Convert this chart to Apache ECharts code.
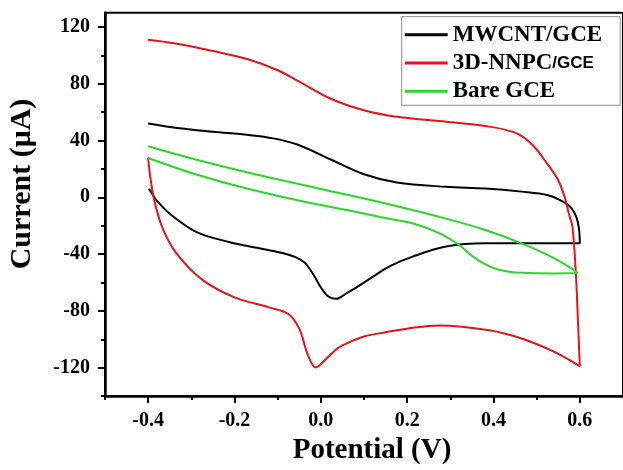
<!DOCTYPE html>
<html><head><meta charset="utf-8">
<script src="https://cdn.jsdelivr.net/npm/echarts@6/dist/echarts.min.js"></script>
<style>html,body{margin:0;padding:0;background:#fff}#c{width:623px;height:470px}</style>
</head><body><div id="c"></div>
<script>
const seriesNames = ['MWCNT/GCE', '3D-NNPC/GCE', 'Bare GCE'];
const seriesColors = ['#000000', '#e3141c', '#2ad82a'];

// MWCNT/GCE loop (potential V, current uA), in sweep order
const mwcntV = [-0.40, -0.327, -0.25, -0.167, -0.11, -0.053, 0.023, 0.10, 0.176, 0.29, 0.381, 0.465, 0.526, 0.564, 0.58, 0.592, 0.598, 0.600,
  0.54, 0.465, 0.381, 0.29, 0.214, 0.16, 0.123, 0.09, 0.06, 0.035, 0.016, -0.003, -0.015, -0.037, -0.06, -0.10, -0.167, -0.213, -0.289, -0.35, -0.38, -0.392, -0.398];
const mwcntI = [52, 48.6, 46.2, 43.9, 41.5, 37, 26.6, 16.2, 10.4, 7.4, 6.2, 4, 1.5, -3.5, -7.5, -14, -22, -32.4,
  -32.4, -32.4, -32.4, -34.7, -41.6, -48.5, -55.5, -62, -67.5, -71.5, -69.5, -62, -55.5, -46.2, -42, -38.5, -34.5, -31.5, -24.3, -11.6, -2.3, 3, 6];

// 3D-NNPC/GCE loop
const nnpcV = [-0.40, -0.34, -0.25, -0.167, -0.10, -0.053, 0.023, 0.10, 0.176, 0.29, 0.381, 0.45, 0.49, 0.526, 0.55, 0.565, 0.575, 0.583, 0.591, 0.596, 0.600,
  0.54, 0.465, 0.39, 0.274, 0.2, 0.15, 0.1, 0.07, 0.04, 0.015, -0.012, -0.03, -0.05, -0.076, -0.12, -0.2, -0.275, -0.335, -0.365, -0.384, -0.395, -0.40];
const nnpcI = [111, 108.5, 103, 97, 89.5, 82, 69.4, 61.3, 56.7, 53.2, 50.2, 45.5, 37, 23, 12, 0, -12, -21, -55, -90, -119,
  -108.7, -99.4, -93.6, -90.2, -92.5, -95, -98, -101.5, -106, -113, -119.8, -111, -92.5, -82, -77.5, -70.5, -58, -39.3, -23, -4.6, 14, 27.7];

// Bare GCE loop
const bareV = [-0.40, -0.29, -0.167, -0.015, 0.138, 0.29, 0.381, 0.465, 0.54, 0.595,
  0.54, 0.465, 0.412, 0.374, 0.345, 0.32, 0.275, 0.214, 0.138, 0.06, -0.015, -0.167, -0.29, -0.40];
const bareI = [35.9, 26.6, 17.3, 6.9, -3.5, -15, -23, -32.4, -42.8, -53.2,
  -53.6, -53.2, -51, -46, -40, -33.5, -25.4, -18.5, -13.9, -9, -4.6, 5.8, 16.2, 27.7];

const xMajorTicks = [-0.4, -0.2, 0, 0.2, 0.4, 0.6];
const xMinorTicks = [-0.5, -0.3, -0.1, 0.1, 0.3, 0.5];
const yMajorTicks = [-120, -80, -40, 0, 40, 80, 120];
const yMinorTicks = [-140, -100, -60, -20, 20, 60, 100];

const xTitle = 'Potential (V)';
const yTitle = 'Current (\u03BCA)';

function zip(v, i) { return v.map((x, k) => [x, i[k]]); }
const serif = "'Liberation Serif','Times New Roman',serif";
const black = '#000';

const chart = echarts.init(document.getElementById('c'), null, { renderer: 'canvas' });

const xBase = { type: 'value', min: -0.5, max: 0.7, splitLine: { show: false }, position: 'bottom' };
const yBase = { type: 'value', min: -140, max: 130, splitLine: { show: false }, position: 'left' };

const option = {
  animation: false,
  backgroundColor: '#fff',
  grid: { left: 105, top: 12.7, right: -6.5, bottom: 67.3, show: true, borderColor: black, borderWidth: 2 },
  xAxis: [
    Object.assign({}, xBase, {
      axisLine: { onZero: false, lineStyle: { color: black, width: 2.5 } },
      axisTick: { customValues: xMajorTicks, length: 7, lineStyle: { color: black, width: 2 } },
      axisLabel: { customValues: xMajorTicks, formatter: v => v.toFixed(1), margin: 15,
        fontFamily: serif, fontWeight: 'bold', fontSize: 20, color: black },
      name: xTitle, nameLocation: 'middle', nameGap: 39,
      nameTextStyle: { fontFamily: serif, fontWeight: 'bold', fontSize: 29, color: black, padding: [0, 0, 0, 16] }
    }),
    Object.assign({}, xBase, {
      axisLine: { show: false, onZero: false },
      axisTick: { customValues: xMinorTicks, length: 4, lineStyle: { color: black, width: 2 } },
      axisLabel: { show: false }
    })
  ],
  yAxis: [
    Object.assign({}, yBase, {
      axisLine: { onZero: false, lineStyle: { color: black, width: 2.5 } },
      axisTick: { customValues: yMajorTicks, length: 7, lineStyle: { color: black, width: 2 } },
      axisLabel: { customValues: yMajorTicks, margin: 15,
        fontFamily: serif, fontWeight: 'bold', fontSize: 20, color: black }
    }),
    Object.assign({}, yBase, {
      axisLine: { show: false, onZero: false },
      axisTick: { customValues: yMinorTicks, length: 4, lineStyle: { color: black, width: 2 } },
      axisLabel: { show: false }
    })
  ],
  legend: {
    orient: 'vertical', left: 401.7, top: 16.7,
    padding: [6, 18, 2, 3], itemGap: 4.3, itemWidth: 43, itemHeight: 3, icon: 'rect',
    borderColor: '#8a8a8a', borderWidth: 1,
    data: seriesNames,
    formatter: name => name === '3D-NNPC/GCE' ? '{a|3D-NNPC}{b|/GCE}' : name,
    textStyle: {
      fontFamily: serif, fontWeight: 'bold', fontSize: 23, color: black, lineHeight: 24,
      rich: {
        a: { fontFamily: serif, fontWeight: 'bold', fontSize: 23, color: black, lineHeight: 24 },
        b: { fontFamily: "'Liberation Sans',Arial,sans-serif", fontWeight: 'bold', fontSize: 17, color: black, lineHeight: 24 }
      }
    }
  },
  graphic: [{
    type: 'text', x: 22.5, y: 184, rotation: Math.PI / 2,
    style: { text: yTitle, fontFamily: serif, fontWeight: 'bold', fontSize: 30, fill: black,
      align: 'center', verticalAlign: 'middle' }
  }],
  series: [
    { name: seriesNames[0], data: zip(mwcntV, mwcntI) },
    { name: seriesNames[1], data: zip(nnpcV, nnpcI) },
    { name: seriesNames[2], data: zip(bareV, bareI) }
  ].map((s, k) => Object.assign(s, {
    type: 'line', xAxisIndex: 0, yAxisIndex: 0, showSymbol: false, smooth: 0.35,
    color: seriesColors[k], lineStyle: { color: seriesColors[k], width: 2 }, z: 2 + k
  }))
};
chart.setOption(option);
</script></body></html>
